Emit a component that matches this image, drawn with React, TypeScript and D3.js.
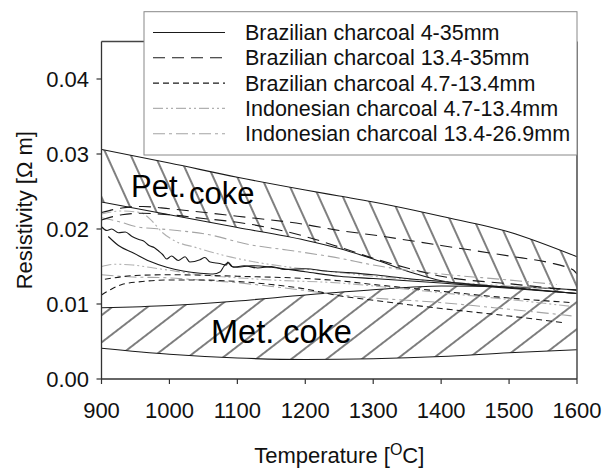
import React from 'react';
import * as d3 from 'd3';

type Pt = [number, number];

// Axis ticks
const xTicks = [900, 1000, 1100, 1200, 1300, 1400, 1500, 1600];
const yTicks = [0, 0.01, 0.02, 0.03, 0.04];

// Reference bands (temperature grid shared by upper / lower edges)
const petTemps = [900, 1000, 1100, 1200, 1250, 1300, 1360, 1400, 1500, 1600];
const petUpper = [0.0306, 0.0288, 0.0269, 0.0252, 0.0244, 0.0236, 0.0225, 0.0217, 0.0196, 0.0163];
const petLower = [0.0236, 0.0219, 0.0202, 0.0185, 0.0174, 0.016, 0.0141, 0.0131, 0.0122, 0.0114];

const metTemps = [900, 1000, 1100, 1200, 1300, 1400, 1500, 1600];
const metUpper = [0.0095, 0.0098, 0.0104, 0.0112, 0.0119, 0.0124, 0.0123, 0.0119];
const metLower = [0.0041, 0.0033, 0.0028, 0.0026, 0.0027, 0.003, 0.0035, 0.0039];

// Brazilian charcoal 4-35mm (two runs)
const braz435A: Pt[] = [
  [900, 0.0203], [908, 0.0198], [915, 0.02], [925, 0.0195], [935, 0.0196], [945, 0.019],
  [955, 0.0186], [962, 0.0184], [970, 0.0178], [978, 0.0175], [985, 0.017], [990, 0.0166],
  [996, 0.016], [1003, 0.0164], [1013, 0.0158], [1023, 0.0163], [1030, 0.0156], [1045, 0.0159],
  [1052, 0.0162], [1060, 0.0156], [1074, 0.0154], [1084, 0.0152], [1086, 0.0156], [1094, 0.0149],
  [1110, 0.0151], [1130, 0.0148], [1150, 0.015], [1170, 0.0146], [1200, 0.0147], [1230, 0.0144],
  [1260, 0.0142], [1300, 0.0139], [1350, 0.0134], [1400, 0.013], [1450, 0.0126], [1500, 0.0122],
  [1550, 0.0118], [1600, 0.0114],
];
const braz435B: Pt[] = [
  [910, 0.019], [925, 0.0178], [947, 0.0168], [971, 0.0157], [996, 0.0149], [1020, 0.0144],
  [1045, 0.0141], [1064, 0.014], [1075, 0.0143], [1080, 0.015], [1086, 0.0155], [1092, 0.015],
  [1100, 0.0149], [1120, 0.0151], [1150, 0.0149], [1200, 0.0143], [1250, 0.0137], [1300, 0.0134],
  [1400, 0.0128], [1500, 0.0121], [1600, 0.0114],
];

// Brazilian charcoal 13.4-35mm
const braz1335A: Pt[] = [
  [900, 0.0222], [930, 0.0228], [961, 0.023], [1000, 0.0227], [1100, 0.0217], [1200, 0.0206],
  [1250, 0.0198], [1300, 0.0192], [1400, 0.0178], [1500, 0.0164], [1560, 0.0155], [1585, 0.0149],
  [1595, 0.0145], [1600, 0.014],
];
const braz1335B: Pt[] = [
  [900, 0.0212], [930, 0.0219], [960, 0.0221], [1000, 0.0219], [1050, 0.0214], [1100, 0.0209],
  [1150, 0.0201], [1200, 0.019], [1250, 0.0176], [1300, 0.0161], [1350, 0.0148], [1400, 0.0137],
  [1500, 0.0127], [1600, 0.0118],
];

// Brazilian charcoal 4.7-13.4mm
const braz4713A: Pt[] = [
  [900, 0.0112], [915, 0.012], [930, 0.0126], [960, 0.013], [1000, 0.0132], [1045, 0.0132],
  [1100, 0.013], [1150, 0.0126], [1200, 0.012], [1250, 0.0111], [1300, 0.0105], [1400, 0.0094],
  [1500, 0.0084], [1580, 0.0075],
];
const braz4713B: Pt[] = [
  [905, 0.0133], [950, 0.0138], [1000, 0.0139], [1100, 0.0137], [1200, 0.0134], [1250, 0.0131],
  [1300, 0.0126], [1400, 0.0117], [1500, 0.0108], [1590, 0.0102],
];

// Indonesian charcoal 4.7-13.4mm
const indo4713A: Pt[] = [
  [900, 0.022], [930, 0.0224], [957, 0.0222], [975, 0.021], [990, 0.0195], [1006, 0.0185],
  [1040, 0.0175], [1079, 0.0165], [1120, 0.0157], [1170, 0.015], [1250, 0.0142], [1300, 0.0137],
  [1400, 0.013], [1500, 0.0124], [1560, 0.0121],
];
const indo4713B: Pt[] = [
  [900, 0.015], [920, 0.0153], [946, 0.0152], [977, 0.0148], [1000, 0.0145], [1045, 0.0139],
  [1100, 0.0135], [1150, 0.0132], [1250, 0.0128], [1300, 0.0124], [1400, 0.0115], [1500, 0.0106],
  [1590, 0.0097],
];

// Indonesian charcoal 13.4-26.9mm
const indo1327A: Pt[] = [
  [900, 0.0215], [925, 0.021], [952, 0.0203], [1000, 0.0199], [1055, 0.0193], [1119, 0.0179],
  [1173, 0.0172], [1251, 0.0161], [1300, 0.0152], [1350, 0.0145], [1400, 0.014], [1500, 0.0132],
  [1570, 0.0126],
];
const indo1327B: Pt[] = [
  [900, 0.0139], [946, 0.0136], [996, 0.0135], [1045, 0.0132], [1104, 0.0128], [1173, 0.0121],
  [1251, 0.0112], [1300, 0.0108], [1398, 0.0102], [1500, 0.0093], [1594, 0.0084],
];

const seriesNames = [
  'Brazilian charcoal 4-35mm',
  'Brazilian charcoal 13.4-35mm',
  'Brazilian charcoal 4.7-13.4mm',
  'Indonesian charcoal 4.7-13.4mm',
  'Indonesian charcoal 13.4-26.9mm',
];
const seriesCurves: Pt[][][] = [
  [braz435A, braz435B],
  [braz1335A, braz1335B],
  [braz4713A, braz4713B],
  [indo4713A, indo4713B],
  [indo1327A, indo1327B],
];
const seriesColors = ['#1a1a1a', '#1a1a1a', '#1a1a1a', '#b0b0b0', '#a4a4a4'];
const seriesDashes = ['none', '12,7', '6,4', '10,3,2,3,2,3', '12,4,3,4'];

const FONT = '"Liberation Sans", Arial, Helvetica, sans-serif';

export default function App() {
  const W = 611;
  const H = 470;
  const x = d3.scaleLinear().domain([900, 1600]).range([101.5, 577]);
  const y = d3.scaleLinear().domain([0, 0.045]).range([379, 41.5]);

  const band = (temps: number[], lo: number[], hi: number[]) =>
    d3
      .area<number>()
      .x((_, i) => x(temps[i]))
      .y0((_, i) => y(lo[i]))
      .y1((_, i) => y(hi[i]))
      .curve(d3.curveMonotoneX)(temps) || '';

  const edge = (temps: number[], vals: number[]) =>
    d3
      .line<number>()
      .x((t) => x(t))
      .y((_, i) => y(vals[i]))
      .curve(d3.curveMonotoneX)(temps) || '';

  const curve = d3
    .line<Pt>()
    .x((d) => x(d[0]))
    .y((d) => y(d[1]))
    .curve(d3.curveMonotoneX);

  const [xl, xr] = x.range();
  const [yb, yt] = y.range();

  const legendX = 144;
  const legendY = 11.7;
  const rowY = (i: number) => 32.5 + i * 25.3;

  return (
    <svg
      width={W}
      height={H}
      style={{ position: 'absolute', left: 0, top: 0, background: '#fff' }}
      fontFamily={FONT}
    >
      <defs>
        <pattern
          id="petHatch"
          patternUnits="userSpaceOnUse"
          width={22}
          height={22}
          patternTransform="rotate(-24.4)"
        >
          <line x1={11} y1={-2} x2={11} y2={24} stroke="#000" strokeWidth={1} />
        </pattern>
        <pattern
          id="metHatch"
          patternUnits="userSpaceOnUse"
          width={21.5}
          height={21.5}
          patternTransform="rotate(52.4)"
        >
          <line x1={10.75} y1={-2} x2={10.75} y2={23.5} stroke="#000" strokeWidth={1} />
        </pattern>
        <clipPath id="plotClip">
          <rect x={xl} y={yt} width={xr - xl} height={yb - yt} />
        </clipPath>
      </defs>

      <rect x={0} y={0} width={W} height={H} fill="#fff" />

      <g clipPath="url(#plotClip)">
        {/* hatched bands */}
        <path d={band(petTemps, petLower, petUpper)} fill="url(#petHatch)" />
        <path d={band(metTemps, metLower, metUpper)} fill="url(#metHatch)" />
        {[
          edge(petTemps, petUpper),
          edge(petTemps, petLower),
          edge(metTemps, metUpper),
          edge(metTemps, metLower),
        ].map((d, i) => (
          <path key={`edge-${i}`} d={d} fill="none" stroke="#1a1a1a" strokeWidth={1.1} />
        ))}

        {/* measured curves, grey ones first */}
        {[3, 4, 0, 1, 2].map((si) =>
          seriesCurves[si].map((c, ci) => (
            <path
              key={`s-${si}-${ci}`}
              d={curve(c) || ''}
              fill="none"
              stroke={seriesColors[si]}
              strokeWidth={1.1}
              strokeDasharray={seriesDashes[si]}
            />
          ))
        )}
      </g>

      {/* band labels */}
      <text x={131} y={197} fontSize={31} fill="#000">
        Pet.
      </text>
      <text x={189} y={204} fontSize={31} fill="#000">
        coke
      </text>
      <text x={211} y={343} fontSize={32.5} fill="#000">
        Met. coke
      </text>

      {/* frame */}
      <line x1={xl} y1={yt} x2={xr} y2={yt} stroke="#444" strokeWidth={1.3} />
      <line x1={xr} y1={yt} x2={xr} y2={yb} stroke="#555" strokeWidth={1.6} />
      <line x1={xl} y1={yt} x2={xl} y2={yb} stroke="#333" strokeWidth={1.3} />
      <line x1={xl} y1={yb} x2={xr} y2={yb} stroke="#333" strokeWidth={1.3} />

      {/* y axis */}
      {yTicks.map((t) => (
        <g key={`yt-${t}`}>
          <line x1={xl - 5} y1={y(t)} x2={xl} y2={y(t)} stroke="#333" strokeWidth={1.2} />
          <text x={89} y={y(t) + 8} fontSize={22} textAnchor="end" fill="#111">
            {d3.format('.2f')(t)}
          </text>
        </g>
      ))}

      {/* x axis */}
      {xTicks.map((t) => (
        <g key={`xt-${t}`}>
          <line x1={x(t)} y1={yb} x2={x(t)} y2={yb + 5} stroke="#333" strokeWidth={1.2} />
          <text x={x(t)} y={418} fontSize={22} textAnchor="middle" fill="#111">
            {t}
          </text>
        </g>
      ))}

      <text x={(xl + xr) / 2} y={463} fontSize={22} textAnchor="middle" fill="#111">
        <tspan>Temperature [</tspan>
        <tspan fontSize={16} dy={-8}>
          O
        </tspan>
        <tspan dy={8}>C]</tspan>
      </text>
      <text
        transform={`translate(32, ${(yb + yt) / 2}) rotate(-90)`}
        fontSize={22}
        textAnchor="middle"
        fill="#111"
      >
        Resistivity [Ω m]
      </text>

      {/* legend */}
      <rect
        x={legendX}
        y={legendY}
        width={xr - legendX}
        height={155 - legendY}
        fill="#fff"
        stroke="#888"
        strokeWidth={1}
      />
      {seriesNames.map((name, i) => (
        <g key={`lg-${i}`}>
          <line
            x1={153}
            y1={rowY(i)}
            x2={225}
            y2={rowY(i)}
            stroke={seriesColors[i]}
            strokeWidth={1.1}
            strokeDasharray={seriesDashes[i]}
          />
          <text x={245} y={rowY(i) + 7.6} fontSize={21.5} fill="#111">
            {name}
          </text>
        </g>
      ))}
    </svg>
  );
}
